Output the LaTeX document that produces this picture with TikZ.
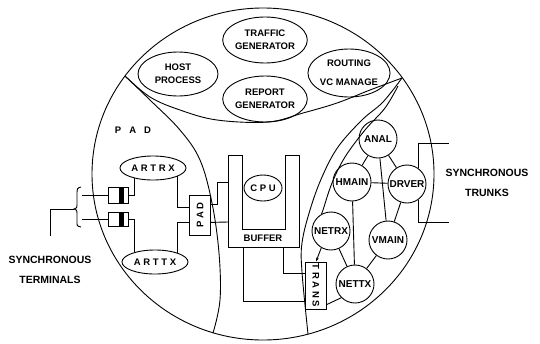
\documentclass[tikz,border=0pt]{standalone}
\usepackage{fontspec}
\setsansfont{Liberation Sans}
\usetikzlibrary{positioning,arrows.meta,shapes.geometric}

\begin{document}
\begin{tikzpicture}[x=1pt,y=-1pt,>=Stealth,line width=0.9pt,
  every node/.style={font=\sffamily\bfseries\fontsize{9.5}{13}\selectfont},
  proc/.style={draw,ellipse,inner sep=0pt,align=center},
  unit/.style={draw,circle,minimum size=38pt,inner sep=0pt,font=\sffamily\bfseries\fontsize{10}{11}\selectfont},
  box/.style={draw,rectangle,inner sep=0pt},
  diode/.style={box,minimum width=20pt,minimum height=15pt,
    path picture={\fill ([xshift=-9pt]path picture bounding box.north east) rectangle ([xshift=-4pt]path picture bounding box.south east);}},
  lbl/.style={align=center,font=\sffamily\bfseries\fontsize{10.5}{20.5}\selectfont}]
\useasboundingbox (0,0) rectangle (540,343);

% outer circle and its three regions
\draw (263,174) ellipse [x radius=171pt, y radius=166pt];
\draw plot[smooth,tension=0.6] coordinates {(125,76) (150,97) (180,110) (217,120) (268,122) (303,113) (337,103) (370,90) (402,78)};
\draw plot[smooth,tension=0.6] coordinates {(125,76) (150,100) (180,130) (200,160) (212,203) (219,253) (220,300) (213,333)};
\draw plot[smooth,tension=0.6] coordinates {(402,78) (383,102) (362,120) (338,147) (322,177) (310,210) (302,243) (302,272) (308,334)};

% host processes
\node[proc,minimum width=84pt,minimum height=46pt] (traffic) at (265,40) {TRAFFIC\\GENERATOR};
\node[proc,minimum width=80pt,minimum height=44pt] (host) at (178,74) {HOST\\PROCESS};
\node[proc,minimum width=84pt,minimum height=46pt] (report) at (265,99) {REPORT\\GENERATOR};
\node[proc,minimum width=82pt,minimum height=48pt,font=\sffamily\bfseries\fontsize{9.5}{19}\selectfont] (routing) at (349,73) {ROUTING\\VC MANAGE};

% PAD side
\node (padlbl) at (133,130) {P\hspace{8pt}A\hspace{8pt}D};
\node[proc,minimum width=66pt,minimum height=24pt] (artrx) at (153,168) {A R T R X};
\node[proc,minimum width=66pt,minimum height=24pt] (arttx) at (155,262) {A R T T X};
\node[diode,minimum height=16pt] (dio1) at (118,195) {};
\node[diode,minimum height=14pt] (dio2) at (118,219) {};
\node[box,minimum width=21pt,minimum height=40pt] (padbox) at (200,215) {\rotatebox{90}{P A D}};
\coordinate (termA) at (82,195);
\coordinate (termB) at (82,219);
\draw (dio1) -- (termA);
\draw (dio2) -- (termB);
\draw (81,187) .. controls (77,188) .. (77,196) -- (77,205) .. controls (77,208) .. (74,209)
  .. controls (77,210) .. (77,213) -- (77,222) .. controls (77,226) .. (81,227);
\draw (74,209) -- (50,209) -- (50,236);
\draw (dio1.east) -| (artrx.209);
\draw (dio2.east) -| (arttx.155);
\draw (artrx.341) |- (padbox.146);
\draw (padbox.214) -| (arttx.22);

% buffer and cpu
\draw (228,155) -- (242,155) -- (242,229) -- (285,229) -- (285,155) -- (299,155) -- (299,247) -- (228,247) -- cycle;
\node (buflbl) at (263,238) {BUFFER};
\node[proc,minimum width=38pt,minimum height=26pt] (cpu) at (263,188) {C P U};
\coordinate (bufin1) at (228,182);
\coordinate (bufin2) at (228,222);
\coordinate (bufout1) at (243,247);
\coordinate (bufout2) at (283,247);
\draw (padbox.44) -- ++(6,0) |- (bufin1);
\draw (padbox.-34) -- (bufin2);

% network side
\node[box,minimum width=21pt,minimum height=47pt] (trans) at (316,285.5) {\rotatebox{-90}{T R A N S}};
\node[unit] (anal) at (378,139) {ANAL};
\node[unit] (hmain) at (352,182) {HMAIN};
\node[unit] (drver) at (407,184) {DRVER};
\node[unit] (netrx) at (331,231) {NETRX};
\node[unit] (vmain) at (388,240) {VMAIN};
\node[unit] (nettx) at (355,284) {NETTX};
\draw (anal) -- (hmain);
\draw (anal) -- (drver);
\draw (anal) -- (vmain);
\draw (hmain) -- (drver);
\draw (hmain) -- (nettx);
\draw (drver) -- (vmain);
\draw (netrx) -- (nettx);
\draw (vmain) -- (nettx);
\draw plot[smooth,tension=0.6] coordinates {(398,86) (385,108) (365,130) (345,157) (332,183) (323,210) (netrx.120)};
\draw[-{Stealth[length=4pt,width=3pt]}] (netrx.240) -- (trans.north);
\draw (nettx.225) -- (trans.-60);
\draw (bufout1) |- (trans.236);
\draw (bufout2) |- (trans.132);

% trunks
\coordinate (trunkA) at (449,143);
\coordinate (trunkB) at (449,222);
\draw (drver.55) |- (trunkA);
\draw (drver.-55) |- (trunkB);

\node[lbl] (trunks) at (487,183) {SYNCHRONOUS\\TRUNKS};
\node[lbl] (terms) at (50,270) {SYNCHRONOUS\\TERMINALS};
\end{tikzpicture}
\end{document}
